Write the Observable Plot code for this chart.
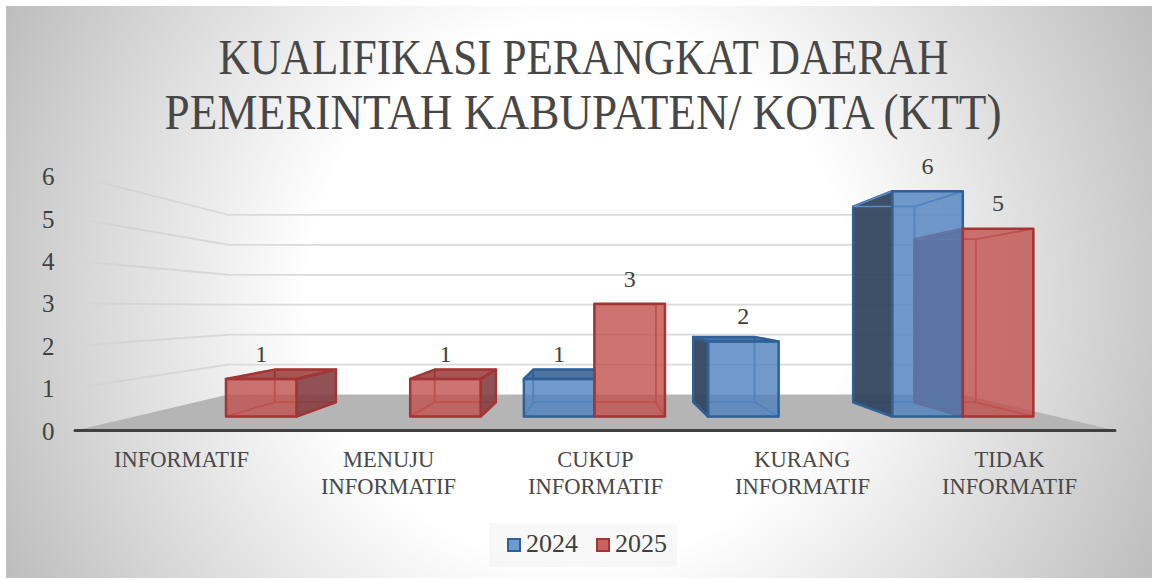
<!DOCTYPE html>
<html>
<head>
<meta charset="utf-8">
<script src="https://cdn.jsdelivr.net/npm/d3@7"></script>
<script src="https://cdn.jsdelivr.net/npm/@observablehq/plot@0.6"></script>
<style>
html,body{margin:0;padding:0;background:#fff;width:1158px;height:580px;overflow:hidden}
#panel{position:absolute;left:6px;top:6px;width:1146px;height:572px;
 background:radial-gradient(circle 640px at 50% 50%,#fff 0,#fff 270px,#bdbdbd 640px);}
#chart{position:absolute;left:0;top:0}
#legend{position:absolute;left:489px;top:523px;width:188px;height:44px;background:rgba(240,240,240,.45);
 font:26px "Liberation Serif",serif;color:#404040;}
#legend span{position:absolute;white-space:nowrap}
#legend i{position:absolute;top:15px;width:10px;height:10px;border-width:2px;border-style:solid}
</style>
</head>
<body>
<div id="panel"></div>
<div id="chart"></div>
<div id="legend"></div>
<script>
const titleLines = ["KUALIFIKASI PERANGKAT DAERAH", "PEMERINTAH KABUPATEN/ KOTA (KTT)"];
const categories = ["INFORMATIF", "MENUJU\nINFORMATIF", "CUKUP\nINFORMATIF", "KURANG\nINFORMATIF", "TIDAK\nINFORMATIF"];
const years = ["2024", "2025"];
const values2024 = [null, null, 1, 2, 6];
const values2025 = [1, 1, 3, null, 5];
const yTicks = [0, 1, 2, 3, 4, 5, 6];
const gridValues = [1, 2, 3, 4, 5, 6];

// styles per series
const seriesStyle = {
  "2024": {face: "#4F81BD", edge: "#2f6098", inner: "#5a8ac6", side: "#33475f", top: "#23508a", swatch: "#6f9ad0"},
  "2025": {face: "#C0504D", edge: "#a33635", inner: "#c05452", side: "#843f41", top: "#922a2a", swatch: "#c96363"}
};

// perspective: vanishing point in data units, depth as scale factors
const vanish = {x: 2.5, y: 2.887};
const depth = {floorFront: 1, barFront: 0.8856, barBack: 0.769, wall: 0.706};
const barWidth = 0.383;
const barOffset = -0.006;
const categorySpread = 0.995;
const project = (x, y, s) => ({x: vanish.x + (x - vanish.x) * s, y: vanish.y + (y - vanish.y) * s});
const poly = (pts, opts) => Plot.line([...pts, pts[0]], {x: "x", y: "y", ...opts});

const marks = [];

// floor
marks.push(poly([project(0, 0, depth.floorFront), project(5, 0, depth.floorFront), project(5, 0, depth.wall), project(0, 0, depth.wall)],
  {fill: "#b5b5b5", stroke: "none"}));

// gridlines
for (const v of gridValues) {
  marks.push(Plot.line([project(0, v, depth.floorFront), project(0, v, depth.wall)], {x: "x", y: "y", stroke: "url(#wallFade)", strokeWidth: 2}));
  marks.push(Plot.line([project(0, v, depth.wall), project(5, v, depth.wall)], {x: "x", y: "y", stroke: "#dadada", strokeWidth: 1.75}));
}

// bars
const bars = [];
categories.forEach((c, i) => {
  if (values2024[i] != null) bars.push({i, year: "2024", v: values2024[i], x0: i + 0.5 - barWidth + barOffset});
  if (values2025[i] != null) bars.push({i, year: "2025", v: values2025[i], x0: i + 0.5 + barOffset});
});
const corners = (b) => {
  const x1 = b.x0 + barWidth;
  return {
    ftl: project(b.x0, b.v, depth.barFront), ftr: project(x1, b.v, depth.barFront),
    fbl: project(b.x0, 0, depth.barFront), fbr: project(x1, 0, depth.barFront),
    btl: project(b.x0, b.v, depth.barBack), btr: project(x1, b.v, depth.barBack),
    bbl: project(b.x0, 0, depth.barBack), bbr: project(x1, 0, depth.barBack)
  };
};
// inner edges and side faces first
for (const b of bars) {
  const k = corners(b), st = seriesStyle[b.year];
  marks.push(poly([k.btl, k.btr, k.bbr, k.bbl], {fill: "none", stroke: st.inner, strokeWidth: 1.5}));
  marks.push(poly([k.bbl, k.bbr, k.fbr, k.fbl], {fill: "none", stroke: st.inner, strokeWidth: 1.5}));
  const leftVisible = b.x0 > vanish.x;
  const rightVisible = b.x0 + barWidth < vanish.x;
  const left = [k.btl, k.ftl, k.fbl, k.bbl], right = [k.ftr, k.btr, k.bbr, k.fbr];
  marks.push(poly(left, leftVisible ? {fill: st.side, fillOpacity: 0.95, stroke: st.edge, strokeWidth: 2.5} : {fill: "none", stroke: st.inner, strokeWidth: 1.5}));
  marks.push(poly(right, rightVisible ? {fill: st.side, fillOpacity: 0.9, stroke: st.edge, strokeWidth: 2.5} : {fill: "none", stroke: st.inner, strokeWidth: 1.5}));
}
for (const b of bars) {
  const k = corners(b), st = seriesStyle[b.year];
  const seenFromAbove = b.v < vanish.y;
  marks.push(poly([k.ftl, k.ftr, k.btr, k.btl], seenFromAbove ? {fill: st.top, fillOpacity: 0.8, stroke: st.edge, strokeWidth: 2.5} : {fill: "none", stroke: st.inner, strokeWidth: 1.5}));
}
for (const b of bars) {
  const k = corners(b), st = seriesStyle[b.year];
  marks.push(poly([k.ftl, k.ftr, k.fbr, k.fbl], {fill: st.face, fillOpacity: 0.8, stroke: st.edge, strokeWidth: 2.5}));
}

// value labels
marks.push(Plot.text(bars, {
  x: (b) => project(b.x0 + barWidth / 2, b.v, depth.barFront).x,
  y: (b) => project(b.x0 + barWidth / 2, b.v, depth.barFront).y,
  text: (b) => String(b.v), dy: -25, fontSize: 24, fill: "#404040"
}));

// x axis line
marks.push(Plot.ruleY([0], {x1: 0, x2: 5, stroke: "#404040", strokeWidth: 3, strokeLinecap: "round"}));

// axes
marks.push(Plot.axisY({ticks: yTicks, tickSize: 0, tickPadding: 0, anchor: "left", fontSize: 25, dy: 1, fill: "#404040", tickFormat: (d) => String(d), label: null}));
marks.push(Plot.axisX({
  ticks: categories.map((c, i) => 2.5 + (i - 2) * categorySpread), tickSize: 0, tickPadding: 0, anchor: "bottom",
  tickFormat: (d) => categories[Math.round(d - 0.5)], fontSize: 22.5, fill: "#484848", lineHeight: 1.22, label: null
}));

// title
titleLines.forEach((t) => {
  marks.push(Plot.text([t], {text: (d) => d, frameAnchor: "top", fontSize: 50, fill: "#474747"}));
});

const plot = Plot.plot({
  width: 1158, height: 580,
  marginLeft: 54, marginRight: 0, marginTop: 0, marginBottom: 133,
  style: {background: "transparent", fontFamily: '"Liberation Serif", serif', overflow: "visible"},
  x: {type: "linear", domain: [0, 5], range: [75, 1115]},
  y: {type: "linear", domain: [0, 6], range: [430, 175.6]},
  marks
});

// fit the title rows to the width and baselines they have in the reference
const titleFit = [{x: 583, y: 73, len: 730}, {x: 582.5, y: 128, len: 837}];
const ns = "http://www.w3.org/2000/svg";
Array.from(plot.querySelectorAll("text")).forEach((t) => {
  const line = titleLines.indexOf(t.textContent);
  if (line < 0) return;
  const f = titleFit[line];
  t.removeAttribute("dy");
  t.removeAttribute("y");
  t.removeAttribute("x");
  t.setAttribute("transform", `translate(${f.x},${f.y})`);
  t.setAttribute("text-anchor", "middle");
  t.setAttribute("textLength", f.len);
  t.setAttribute("lengthAdjust", "spacingAndGlyphs");
});

const defs = document.createElementNS(ns, "defs");
defs.innerHTML = `<linearGradient id="wallFade" gradientUnits="userSpaceOnUse" x1="75" y1="0" x2="228" y2="0">
<stop offset="0" stop-color="#cfcfcf" stop-opacity="0"/><stop offset="0.3" stop-color="#cfcfcf" stop-opacity="0.7"/><stop offset="1" stop-color="#dadada"/></linearGradient>`;
plot.insertBefore(defs, plot.firstChild);
document.getElementById("chart").appendChild(plot);

// legend
const legend = document.getElementById("legend");
years.forEach((y, i) => {
  const left = i === 0 ? 18 : 107;
  const st = seriesStyle[y];
  const sw = document.createElement("i");
  sw.style.left = left + "px";
  sw.style.background = st.swatch;
  sw.style.borderColor = st.edge;
  const lab = document.createElement("span");
  lab.textContent = y;
  lab.style.left = (left + 19) + "px";
  lab.style.top = "6px";
  legend.append(sw, lab);
});
</script>
</body>
</html>
